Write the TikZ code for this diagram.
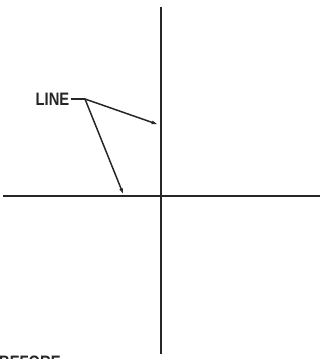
\documentclass[tikz,border=0pt]{standalone}
\usepackage{fontspec}
\setmainfont{Liberation Sans}
\usetikzlibrary{arrows.meta}
\begin{document}
\begin{tikzpicture}[x=1pt,y=-1pt,
  axis/.style={line width=1.7pt,black!85},
  leader/.style={line width=1.5pt,black!85,-{Latex[length=8pt,width=3.6pt]}},
  lbl/.style={font=\fontsize{18}{18}\selectfont\bfseries,xscale=0.82,inner sep=0pt,text=black!85}]
\useasboundingbox (0,0) rectangle (320,359);
\clip (0,0) rectangle (320,359);
\coordinate (vt) at (161,7);
\coordinate (vb) at (161,354);
\coordinate (hl) at (3,196);
\coordinate (hr) at (320,196);
\draw[axis] (vt) -- (vb);
\draw[axis] (hl) -- (hr);
\node[lbl,anchor=east] (line) at (69.5,99) {LINE};
\coordinate (knee) at (85,99);
\coordinate (t1) at (159.5,125);
\coordinate (t2) at (124,196);
\draw[line width=1.5pt,black!85] (line.east) ++(1.5pt,0) -- (knee);
\draw[leader] (knee) -- (t1);
\draw[leader] (knee) -- (t2);
\node[lbl,anchor=north west] (before) at (-1,355.5) {BEFORE};
\end{tikzpicture}
\end{document}
